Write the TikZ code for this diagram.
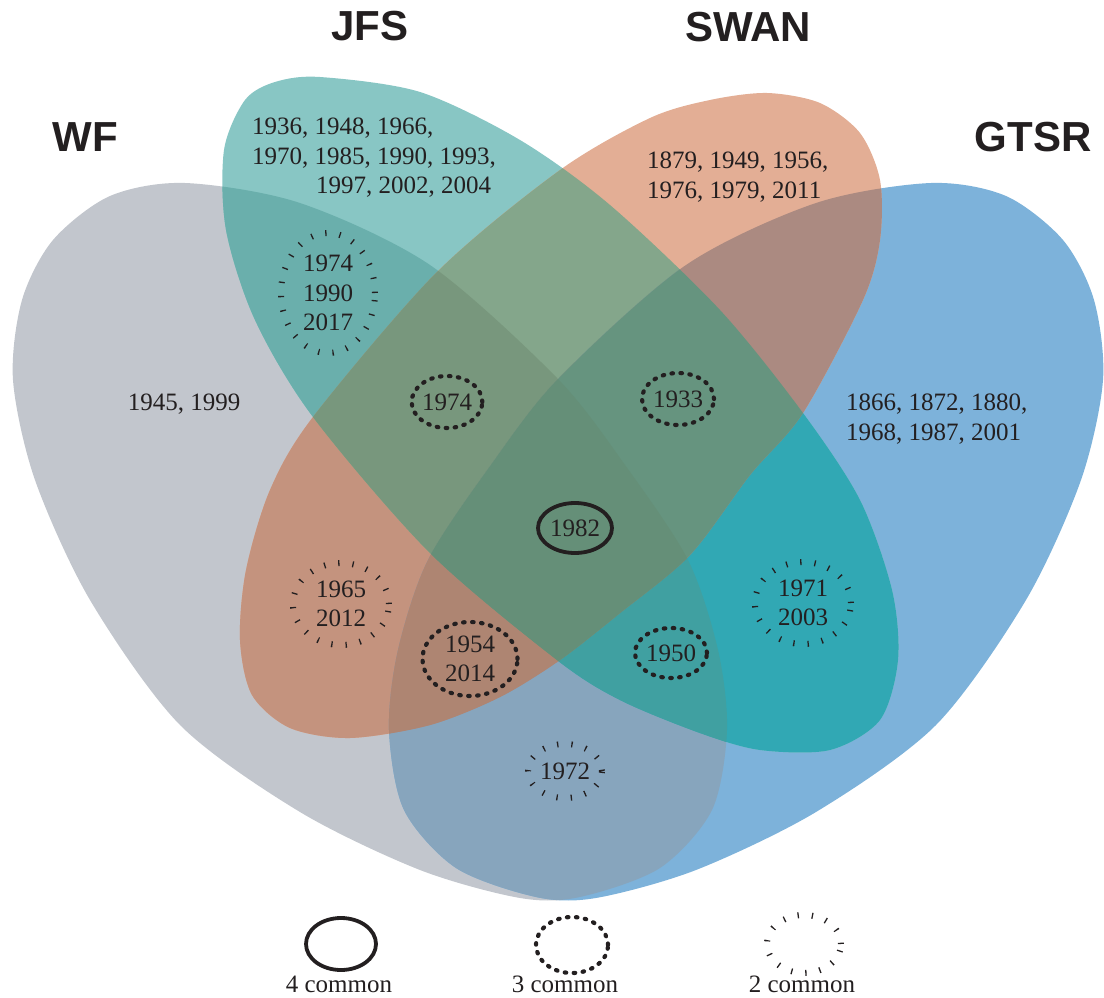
\documentclass[tikz,border=0pt]{standalone}
\usepackage{fontspec}
\setmainfont{Liberation Serif}
\setsansfont{Liberation Sans}
\usetikzlibrary{shapes.geometric}

\definecolor{ink}{HTML}{231F20}
\definecolor{cW}{HTML}{C2C6CD}
\definecolor{cJ}{HTML}{88C6C4}
\definecolor{cS}{HTML}{E3AE95}
\definecolor{cG}{HTML}{7DB2DA}
\definecolor{cWJ}{HTML}{6AAFAC}
\definecolor{cWS}{HTML}{C4937E}
\definecolor{cWG}{HTML}{87A5BD}
\definecolor{cJS}{HTML}{84A68B}
\definecolor{cJG}{HTML}{31A8B4}
\definecolor{cSG}{HTML}{AB8A81}
\definecolor{cWJS}{HTML}{78977D}
\definecolor{cWJG}{HTML}{40A0A1}
\definecolor{cWSG}{HTML}{AE8572}
\definecolor{cJSG}{HTML}{66947F}
\definecolor{cAll}{HTML}{658F78}

% outlines of the four sets (picture coordinates, y downwards)
\def\pathWF{plot[smooth cycle] coordinates {(185,183) (300,203) (430,265) (557,378) (625,465) (688,560) (718,650) (727,730) (712,810) (660,868) (580,897) (520,898) (420,870) (300,812) (180,725) (90,600) (35,480) (13,380) (22,300) (53,240) (110,196)}}
\def\pathGTSR{plot[smooth cycle] coordinates {(931,183) (816,203) (686,265) (559,378) (491,465) (428,560) (398,650) (389,730) (404,810) (456,868) (536,897) (596,898) (696,870) (816,812) (936,725) (1026,600) (1081,480) (1103,380) (1094,300) (1063,240) (1006,196)}}
\def\pathJFS{plot[smooth cycle] coordinates {(320,77) (420,92) (520,140) (610,205) (720,310) (803,413) (860,500) (892,590) (898,660) (880,720) (830,750) (760,750) (700,733) (620,700) (557,660) (430,553) (313,417) (255,320) (226,230) (224,150) (245,100) (275,82)}}
\def\pathSWAN{plot[smooth cycle] coordinates {(767,93) (820,103) (860,133) (880,180) (880,240) (863,300) (803,413) (750,475) (690,555) (620,613) (560,660) (500,697) (430,725) (350,738) (290,728) (252,695) (240,640) (246,570) (270,490) (313,417) (437,272) (560,170) (650,118) (710,100)}}

\begin{document}
\begin{tikzpicture}[x=1pt,y=-1pt]
	\tikzstyle{every node}=[text=ink,font=\fontsize{25}{29.5}\selectfont,inner sep=0pt]
	\tikzstyle{setname}=[font=\sffamily\bfseries\fontsize{42}{42}\selectfont]
	\tikzstyle{years}=[align=left,anchor=west]
	\tikzstyle{fourc}=[ellipse,draw=ink,line width=3.8pt,align=center]
	\tikzstyle{threec}=[ellipse,draw=ink,line width=4.2pt,line cap=round,dash pattern=on 1.5pt off 7.5pt,align=center]
	\tikzstyle{twoc}=[ellipse,draw=ink,line width=6pt,dash pattern=on 1.3pt off 13pt,align=center]
	\useasboundingbox (0,0) rectangle (1104,998);

	% one set
	\fill[cW] \pathWF;
	\fill[cG] \pathGTSR;
	\fill[cJ] \pathJFS;
	\fill[cS] \pathSWAN;
	% two sets
	\begin{scope}
		\clip \pathWF;
		\fill[cWJ] \pathJFS;
		\fill[cWS] \pathSWAN;
		\fill[cWG] \pathGTSR;
	\end{scope}
	\begin{scope}
		\clip \pathJFS;
		\fill[cJS] \pathSWAN;
		\fill[cJG] \pathGTSR;
	\end{scope}
	\begin{scope}
		\clip \pathSWAN;
		\fill[cSG] \pathGTSR;
	\end{scope}
	% three sets
	\begin{scope}
		\clip \pathWF; \clip \pathJFS;
		\fill[cWJS] \pathSWAN;
		\fill[cWJG] \pathGTSR;
	\end{scope}
	\begin{scope}
		\clip \pathWF; \clip \pathSWAN;
		\fill[cWSG] \pathGTSR;
	\end{scope}
	\begin{scope}
		\clip \pathJFS; \clip \pathSWAN;
		\fill[cJSG] \pathGTSR;
	\end{scope}
	% all four
	\begin{scope}
		\clip \pathWF; \clip \pathJFS; \clip \pathSWAN;
		\fill[cAll] \pathGTSR;
	\end{scope}

	\node[setname] (wf) at (85,137) {WF};
	\node[setname] (jfs) at (370,26) {JFS};
	\node[setname] (swan) at (748,27) {SWAN};
	\node[setname] (gtsr) at (1033,137) {GTSR};

	\node[years] (jfsonly) at (252,158) {1936, 1948, 1966,\\1970, 1985, 1990, 1993,\\\hspace*{64pt}1997, 2002, 2004};
	\node[years] (swanonly) at (647,177) {1879, 1949, 1956,\\1976, 1979, 2011};
	\node[years] (gtsronly) at (846,419) {1866, 1872, 1880,\\1968, 1987, 2001};
	\node (wfonly) at (184,404) {1945, 1999};

	\node[twoc,minimum width=94pt,minimum height=120pt] (wfjfs) at (328,293) {1974\\1990\\2017};
	\node[twoc,minimum width=96pt,minimum height=82pt] (wfswan) at (341,604) {1965\\2012};
	\node[twoc,minimum width=96pt,minimum height=82pt] (jfsgtsr) at (803,603) {1971\\2003};
	\node[twoc,minimum width=74pt,minimum height=54pt] (wfgtsr) at (565,771) {1972};
	\node[threec,minimum width=70pt,minimum height=52pt] (wfjfsswan) at (447,402) {1974};
	\node[threec,minimum width=72pt,minimum height=52pt] (jfsswangtsr) at (678,399) {1933};
	\node[threec,minimum width=95pt,minimum height=74pt] (wfswangtsr) at (470,659) {1954\\2014};
	\node[threec,minimum width=72pt,minimum height=50pt] (wfjfsgtsr) at (671,653) {1950};
	\node[fourc,minimum width=74pt,minimum height=50pt] (allfour) at (575,528) {1982};

	% key
	\node[fourc,minimum width=70pt,minimum height=52pt] (key4) at (341,944) {};
	\node[threec,minimum width=72pt,minimum height=56pt] (key3) at (572,945) {};
	\node[twoc,minimum width=74pt,minimum height=58pt] (key2) at (804,944) {};
	\node (lab4) at (339,984) {4 common};
	\node (lab3) at (565,984) {3 common};
	\node (lab2) at (802,984) {2 common};
\end{tikzpicture}
\end{document}
